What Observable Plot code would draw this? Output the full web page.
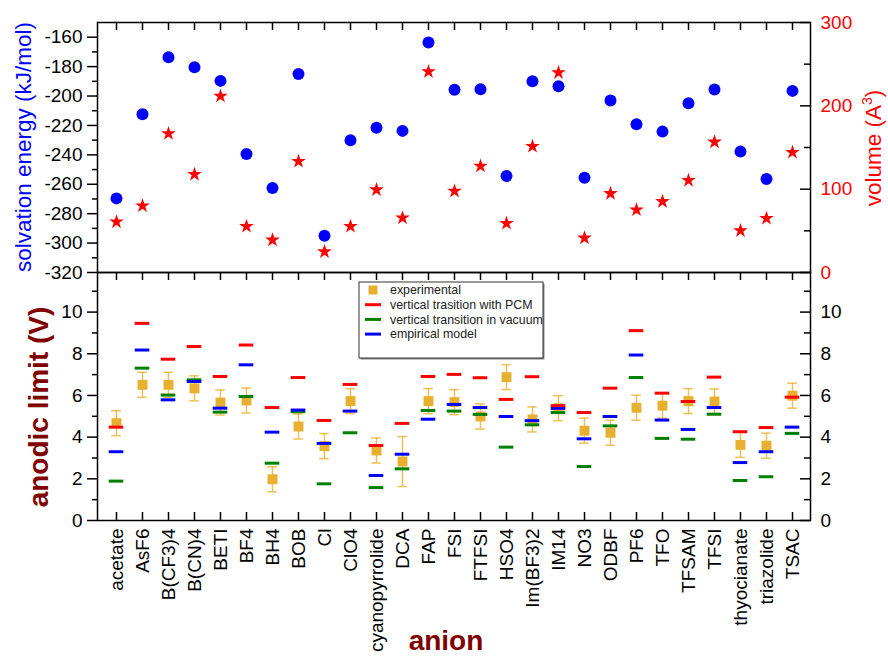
<!DOCTYPE html>
<html><head><meta charset="utf-8">
<script src="https://cdn.jsdelivr.net/npm/d3@7"></script>
<script src="https://cdn.jsdelivr.net/npm/@observablehq/plot@0.6"></script>
<style>
body{margin:0;background:#fff;}
#wrap{position:relative;width:888px;height:657px;overflow:hidden;background:#fff;font-family:"Liberation Sans",Arial,sans-serif;}
#wrap svg{position:absolute;left:0;top:0;}
</style></head><body><div id="wrap"></div>
<script>
// ---------- data ----------
const anions = ["acetate","AsF6","B(CF3)4","B(CN)4","BETI","BF4","BH4","BOB","Cl","ClO4","cyanopyrrolide","DCA","FAP","FSI","FTFSI","HSO4","Im(BF3)2","IM14","NO3","ODBF","PF6","TFO","TFSAM","TFSI","thyocianate","triazolide","TSAC"];
const solvationEnergy = [-269.6,-212.4,-173.6,-180.4,-189.7,-239.4,-262.5,-185.0,-295.0,-230.1,-221.5,-223.7,-163.6,-195.8,-195.4,-254.4,-189.9,-193.4,-255.5,-203.1,-219.2,-224.2,-204.9,-195.6,-237.8,-256.4,-196.5];
const volume = [60.7,80.0,166.7,117.7,211.7,55.4,39.0,133.4,24.9,55.4,99.3,65.5,241.0,97.6,127.7,59.0,151.4,239.8,41.4,94.8,75.2,85.2,110.5,156.6,50.2,65.0,144.2];
const experimental = [4.67,6.51,6.51,6.34,5.66,5.76,1.98,4.51,3.57,5.73,3.36,2.83,5.73,5.68,4.99,6.88,4.85,5.39,4.31,4.21,5.41,5.51,5.73,5.71,3.63,3.59,5.99];
const experimentalErr = [0.6,0.6,0.6,0.6,0.6,0.6,0.6,0.6,0.6,0.6,0.6,1.2,0.6,0.6,0.6,0.6,0.6,0.6,0.6,0.6,0.6,0.6,0.6,0.6,0.6,0.6,0.6];
const pcm = [4.48,9.46,7.74,8.35,6.91,8.42,5.42,6.86,4.80,6.53,3.60,4.66,6.91,7.01,6.85,5.81,6.90,5.51,5.18,6.35,9.11,6.11,5.71,6.88,4.26,4.46,5.92];
const vacuum = [1.89,7.31,6.02,6.75,5.20,5.95,2.75,5.22,1.76,4.21,1.58,2.48,5.28,5.25,5.09,3.52,4.59,5.18,2.59,4.54,6.86,3.94,3.90,5.10,1.92,2.10,4.18];
const empirical = [3.30,8.18,5.79,6.67,5.39,7.47,4.24,5.30,3.70,5.25,2.16,3.18,4.86,5.57,5.42,4.99,4.79,5.38,3.92,4.99,7.94,4.82,4.37,5.42,2.78,3.30,4.48];

const energyTicks = [-320,-300,-280,-260,-240,-220,-200,-180,-160];
const energyMinor = [-310,-290,-270,-250,-230,-210,-190,-170];
const volumeTicks = [0,100,200,300];
const volumeMinor = [50,150,250];
const limitTicks = [0,2,4,6,8,10];
const limitMinor = [1,3,5,7,9,11];
const legendLabels = ["experimental","vertical trasition with PCM","vertical transition in vacuum","empirical model"];
const legendColors = ["#e8b030","#ff0000","#008000","#0000ff"];

// ---------- tables ----------
const topRows = anions.map((a,i)=>({anion:a, energy:solvationEnergy[i], volume:volume[i]}));
const botRows = anions.map((a,i)=>({anion:a, exp:experimental[i], lo:experimental[i]-experimentalErr[i], hi:experimental[i]+experimentalErr[i], pcm:pcm[i], vac:vacuum[i], emp:empirical[i]}));

// ---------- layout ----------
const W=888, H=657, ML=97, MR=78, T1=22, M=272, B=520;
const FW = W-ML-MR, FH1 = M-T1, FH2 = B-M;
const GOLD = "#e8b030";
const font = "'Liberation Sans', Arial, sans-serif";
const baseStyle = {background:"transparent", fontFamily:font, fontSize:"19px", color:"#000", overflow:"visible"};
const xScale = () => ({type:"band", domain:anions, paddingInner:0, paddingOuter:0, axis:null});
const wrap = document.getElementById("wrap");

// top panel: solvation energy (left axis)
wrap.append(Plot.plot({
  width:W, height:H, marginLeft:ML, marginRight:MR, marginTop:T1, marginBottom:H-M,
  style:baseStyle, x:xScale(), y:{domain:[-320,-150], axis:null},
  marks:[
    Plot.frame({stroke:"#000", strokeWidth:1.5}),
    Plot.axisY({anchor:"left", ticks:energyTicks, tickSize:10, tickPadding:5, strokeWidth:1.5, tickFormat:d=>String(d), label:null}),
    Plot.axisY({anchor:"left", ticks:energyMinor, tickSize:5, strokeWidth:1.5, tickFormat:()=>"", label:null}),
    Plot.ruleX(anions, {x:d=>d, insetBottom:FH1-8, stroke:"#000", strokeWidth:1.5}),
    Plot.dot(topRows, {x:"anion", y:"energy", r:6, fill:"#0000ff"})
  ]
}));

// top panel: volume (right axis)
wrap.append(Plot.plot({
  width:W, height:H, marginLeft:ML, marginRight:MR, marginTop:T1, marginBottom:H-M,
  style:baseStyle, x:xScale(), y:{domain:[0,300], axis:null},
  marks:[
    Plot.axisY({anchor:"right", ticks:volumeTicks, tickSize:0, tickPadding:10, color:"#ff0000", tickFormat:d=>String(d), label:null}),
    Plot.ruleY(volumeTicks, {y:d=>d, insetLeft:FW-10, stroke:"#000", strokeWidth:1.5}),
    Plot.ruleY(volumeMinor, {y:d=>d, insetLeft:FW-6, stroke:"#000", strokeWidth:1.5}),
    Plot.dot(topRows, {x:"anion", y:"volume", symbol:"star", r:4.6, fill:"#ff0000"})
  ]
}));

// bottom panel: anodic limit
wrap.append(Plot.plot({
  width:W, height:H, marginLeft:ML, marginRight:MR, marginTop:M, marginBottom:H-B,
  style:baseStyle, x:xScale(), y:{domain:[0,11.9], axis:null},
  marks:[
    Plot.frame({stroke:"#000", strokeWidth:1.5}),
    Plot.axisX({anchor:"bottom", tickSize:0, tickPadding:8, tickRotate:-90, label:null}),
    Plot.ruleX(anions, {x:d=>d, insetBottom:FH2-8, stroke:"#000", strokeWidth:1.5}),
    Plot.ruleX(anions, {x:d=>d, insetTop:FH2-8, stroke:"#000", strokeWidth:1.5}),
    Plot.axisY({anchor:"left", ticks:limitTicks, tickSize:10, tickPadding:5, strokeWidth:1.5, tickFormat:d=>String(d), label:null}),
    Plot.axisY({anchor:"left", ticks:limitMinor, tickSize:5, strokeWidth:1.5, tickFormat:()=>"", label:null}),
    Plot.axisY({anchor:"right", ticks:limitTicks, tickSize:0, tickPadding:10, tickFormat:d=>String(d), label:null}),
    Plot.ruleY(limitTicks, {y:d=>d, insetLeft:FW-10, stroke:"#000", strokeWidth:1.5}),
    Plot.ruleY(limitMinor, {y:d=>d, insetLeft:FW-6, stroke:"#000", strokeWidth:1.5}),
    // experimental with error bars
    Plot.ruleX(botRows, {x:"anion", y1:"lo", y2:"hi", stroke:GOLD, strokeOpacity:0.8, strokeWidth:1.5}),
    Plot.tickY(botRows, {x:"anion", y:"lo", stroke:GOLD, strokeOpacity:0.8, strokeWidth:1.5, insetLeft:8.2, insetRight:8.2}),
    Plot.tickY(botRows, {x:"anion", y:"hi", stroke:GOLD, strokeOpacity:0.8, strokeWidth:1.5, insetLeft:8.2, insetRight:8.2}),
    Plot.dot(botRows, {x:"anion", y:"exp", symbol:"square", r:5.6, fill:GOLD}),
    // models
    Plot.tickY(botRows, {x:"anion", y:"vac", stroke:"#008000", strokeWidth:3, insetLeft:5.7, insetRight:5.7}),
    Plot.tickY(botRows, {x:"anion", y:"emp", stroke:"#0000ff", strokeWidth:3, insetLeft:5.7, insetRight:5.7}),
    Plot.tickY(botRows, {x:"anion", y:"pcm", stroke:"#ff0000", strokeWidth:3, insetLeft:5.7, insetRight:5.7})
  ]
}));

// ---------- titles & legend ----------
const svg = d3.create("svg").attr("width",W).attr("height",H).attr("font-family",font).style("overflow","visible");
svg.append("text").attr("transform","translate(31,147) rotate(-90)").attr("text-anchor","middle")
  .attr("font-size",22.5).attr("fill","#0000ff").text("solvation energy (kJ/mol)");
const vt = svg.append("text").attr("transform","translate(881,148) rotate(-90)").attr("text-anchor","middle")
  .attr("font-size",22.5).attr("fill","#ff0000");
vt.append("tspan").text("volume (A");
vt.append("tspan").attr("font-size",14).attr("dy",-9).text("3");
vt.append("tspan").attr("dy",9).text(")");
svg.append("text").attr("transform","translate(48,407) rotate(-90)").attr("text-anchor","middle")
  .attr("font-size",28).attr("font-weight","bold").attr("fill","#800000").text("anodic limit (V)");
svg.append("text").attr("x",446).attr("y",650).attr("text-anchor","middle")
  .attr("font-size",28).attr("font-weight","bold").attr("fill","#800000").text("anion");

// legend
const lg = svg.append("g").attr("transform","translate(359,282)");
lg.append("clipPath").attr("id","lgclip").append("rect").attr("width",184).attr("height",76);
lg.append("rect").attr("x",1.5).attr("y",1.5).attr("width",184).attr("height",76).attr("fill","#888");
lg.append("rect").attr("width",184).attr("height",76).attr("fill","#fff").attr("stroke","#333").attr("stroke-width",1);
const items = lg.append("g").attr("clip-path","url(#lgclip)");
legendLabels.forEach((lab,i)=>{
  const cy = 8 + i*14.7;
  if(i===0){
    items.append("rect").attr("x",9.5).attr("y",cy-4.5).attr("width",9).attr("height",9).attr("fill",legendColors[i]);
  } else {
    items.append("line").attr("x1",6).attr("x2",22).attr("y1",cy).attr("y2",cy).attr("stroke",legendColors[i]).attr("stroke-width",3);
  }
  items.append("text").attr("x",31).attr("y",cy+4.3).attr("font-size",12.4).attr("fill","#222").text(lab);
});
wrap.append(svg.node());
</script></body></html>
